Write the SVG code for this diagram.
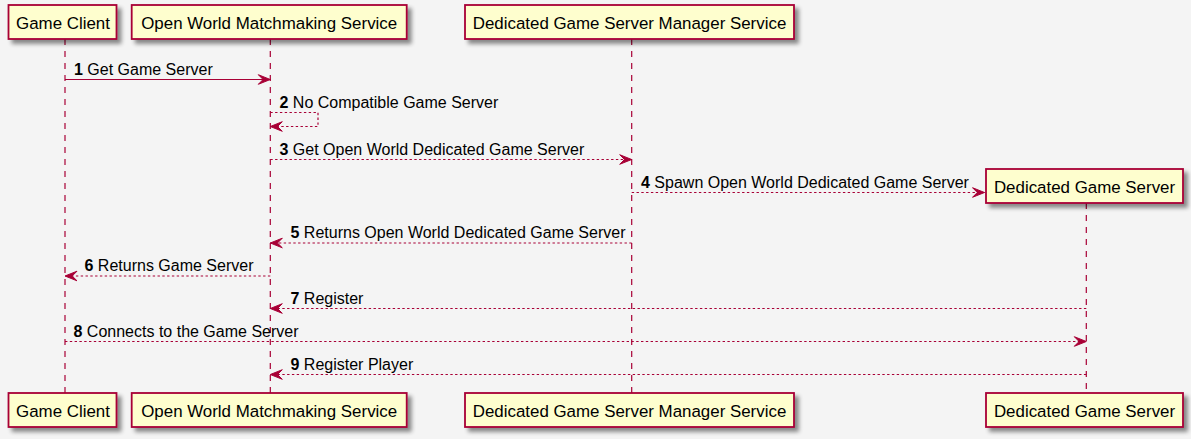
<svg xmlns="http://www.w3.org/2000/svg" width="1191" height="439" viewBox="0 0 1191 439">
  <style>
    .bg { fill: #F4F4F4; }
    .box { fill: #FEFECE; stroke: #A80036; stroke-width: 1.8; filter: url(#shadow); }
    .plabel { font-family: "Liberation Sans", Arial, sans-serif; font-size: 16.9px; fill: #000; text-anchor: middle; }
    .life { stroke: #A80036; stroke-width: 1.2; stroke-dasharray: 6 6; fill: none; }
    .msg { stroke: #A80036; stroke-width: 1.2; fill: none; marker-end: url(#arrow); }
    .dot { stroke-dasharray: 2.4 2.4; }
    .mlabel { font-family: "Liberation Sans", Arial, sans-serif; font-size: 16px; fill: #000; }
    .num { font-weight: bold; }
  </style>
  <defs>
    <filter id="shadow" x="-10%" y="-20%" width="130%" height="160%">
      <feGaussianBlur in="SourceAlpha" stdDeviation="2"/>
      <feOffset dx="4" dy="4" result="off"/>
      <feComponentTransfer>
        <feFuncA type="linear" slope="0.45"/>
      </feComponentTransfer>
      <feMerge>
        <feMergeNode/>
        <feMergeNode in="SourceGraphic"/>
      </feMerge>
    </filter>
    <marker id="arrow" viewBox="-13 -6 14 12" markerWidth="14" markerHeight="12" refX="0" refY="0" orient="auto" markerUnits="userSpaceOnUse">
      <path d="M0,0 L-12,-4.8 L-7.2,0 L-12,4.8 Z" fill="#A80036" stroke="#A80036" stroke-width="1"/>
    </marker>
  </defs>

  <rect class="bg" x="0" y="0" width="1191" height="439"/>

  <!-- lifelines -->
  <g id="lifelines">
    <line class="life" x1="65" y1="39" x2="65" y2="393"/>
    <line class="life" x1="270.3" y1="39" x2="270.3" y2="393"/>
    <line class="life" x1="631.7" y1="39" x2="631.7" y2="393"/>
    <line class="life" x1="1086.3" y1="203" x2="1086.3" y2="393"/>
  </g>

  <!-- participants -->
  <g id="game-client">
    <rect class="box" x="8.5" y="5" width="108" height="34"/>
    <text class="plabel" x="63" y="28.5">Game Client</text>
    <rect class="box" x="8.5" y="393" width="108" height="34"/>
    <text class="plabel" x="63" y="416.5">Game Client</text>
  </g>
  <g id="matchmaking-service">
    <rect class="box" x="131.7" y="5" width="275" height="34"/>
    <text class="plabel" x="269.2" y="28.5">Open World Matchmaking Service</text>
    <rect class="box" x="131.7" y="393" width="275" height="34"/>
    <text class="plabel" x="269.2" y="416.5">Open World Matchmaking Service</text>
  </g>
  <g id="server-manager-service">
    <rect class="box" x="465" y="5" width="329" height="34"/>
    <text class="plabel" x="629.5" y="28.5">Dedicated Game Server Manager Service</text>
    <rect class="box" x="465" y="393" width="329" height="34"/>
    <text class="plabel" x="629.5" y="416.5">Dedicated Game Server Manager Service</text>
  </g>
  <g id="dedicated-game-server">
    <rect class="box" x="986" y="169" width="197" height="34"/>
    <text class="plabel" x="1084.5" y="192.5">Dedicated Game Server</text>
    <rect class="box" x="986" y="393" width="197" height="34"/>
    <text class="plabel" x="1084.5" y="416.5">Dedicated Game Server</text>
  </g>

  <!-- messages -->
  <g id="connectors">
    <line class="msg" x1="65" y1="79.5" x2="270.3" y2="79.5"/>
    <text class="mlabel" x="74" y="74.5"><tspan class="num">1</tspan> Get Game Server</text>

    <path class="msg dot" d="M270.3,112.5 L318,112.5 L318,126.5 L270.3,126.5"/>
    <text class="mlabel" x="279.5" y="107.5"><tspan class="num">2</tspan> No Compatible Game Server</text>

    <line class="msg dot" x1="270.3" y1="159.5" x2="631.7" y2="159.5"/>
    <text class="mlabel" x="279.5" y="154.5"><tspan class="num">3</tspan> Get Open World Dedicated Game Server</text>

    <line class="msg dot" x1="631.7" y1="192.5" x2="984.5" y2="192.5"/>
    <text class="mlabel" x="641" y="187.5"><tspan class="num">4</tspan> Spawn Open World Dedicated Game Server</text>

    <line class="msg dot" x1="631.7" y1="243" x2="270.3" y2="243"/>
    <text class="mlabel" x="290.5" y="238"><tspan class="num">5</tspan> Returns Open World Dedicated Game Server</text>

    <line class="msg dot" x1="270.3" y1="276" x2="65" y2="276"/>
    <text class="mlabel" x="84.5" y="271"><tspan class="num">6</tspan> Returns Game Server</text>

    <line class="msg dot" x1="1086.3" y1="308.5" x2="270.3" y2="308.5"/>
    <text class="mlabel" x="290.5" y="303.5"><tspan class="num">7</tspan> Register</text>

    <line class="msg dot" x1="65" y1="341.5" x2="1086.3" y2="341.5"/>
    <text class="mlabel" x="73.5" y="336.5"><tspan class="num">8</tspan> Connects to the Game Server</text>

    <line class="msg dot" x1="1086.3" y1="374.5" x2="270.3" y2="374.5"/>
    <text class="mlabel" x="290.5" y="369.5"><tspan class="num">9</tspan> Register Player</text>
  </g>
</svg>
